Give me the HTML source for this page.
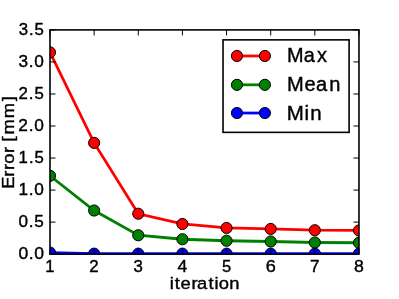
<!DOCTYPE html>
<html><head><meta charset="utf-8"><title>chart</title>
<style>
html,body{margin:0;padding:0;background:#fff;}
svg{display:block;will-change:transform;}
text{font-family:"Liberation Sans",sans-serif;fill:#000;white-space:pre;stroke:#000;stroke-width:0.4px;}
</style></head><body>
<svg width="399" height="299" viewBox="0 0 400 300">
<rect x="0" y="0" width="400" height="300" fill="#fff"/>
<defs><clipPath id="ax"><rect x="50" y="30" width="310" height="225"/></clipPath></defs>
<g clip-path="url(#ax)">
<polyline points="50.00,52.53 94.29,143.36 138.57,214.44 182.86,224.71 227.14,228.72 271.43,229.72 315.71,230.98 360.00,231.23" fill="none" stroke="#ff0000" stroke-width="2.78" stroke-linejoin="miter"/>
<circle cx="50.00" cy="52.53" r="5.6" fill="#ff0000" stroke="#000" stroke-width="1.0"/>
<circle cx="94.29" cy="143.36" r="5.6" fill="#ff0000" stroke="#000" stroke-width="1.0"/>
<circle cx="138.57" cy="214.44" r="5.6" fill="#ff0000" stroke="#000" stroke-width="1.0"/>
<circle cx="182.86" cy="224.71" r="5.6" fill="#ff0000" stroke="#000" stroke-width="1.0"/>
<circle cx="227.14" cy="228.72" r="5.6" fill="#ff0000" stroke="#000" stroke-width="1.0"/>
<circle cx="271.43" cy="229.72" r="5.6" fill="#ff0000" stroke="#000" stroke-width="1.0"/>
<circle cx="315.71" cy="230.98" r="5.6" fill="#ff0000" stroke="#000" stroke-width="1.0"/>
<circle cx="360.00" cy="231.23" r="5.6" fill="#ff0000" stroke="#000" stroke-width="1.0"/>
<polyline points="50.00,176.39 94.29,211.23 138.57,236.04 182.86,240.05 227.14,241.55 271.43,242.31 315.71,243.31 360.00,243.56" fill="none" stroke="#008000" stroke-width="2.78" stroke-linejoin="miter"/>
<circle cx="50.00" cy="176.39" r="5.6" fill="#008000" stroke="#000" stroke-width="1.0"/>
<circle cx="94.29" cy="211.23" r="5.6" fill="#008000" stroke="#000" stroke-width="1.0"/>
<circle cx="138.57" cy="236.04" r="5.6" fill="#008000" stroke="#000" stroke-width="1.0"/>
<circle cx="182.86" cy="240.05" r="5.6" fill="#008000" stroke="#000" stroke-width="1.0"/>
<circle cx="227.14" cy="241.55" r="5.6" fill="#008000" stroke="#000" stroke-width="1.0"/>
<circle cx="271.43" cy="242.31" r="5.6" fill="#008000" stroke="#000" stroke-width="1.0"/>
<circle cx="315.71" cy="243.31" r="5.6" fill="#008000" stroke="#000" stroke-width="1.0"/>
<circle cx="360.00" cy="243.56" r="5.6" fill="#008000" stroke="#000" stroke-width="1.0"/>
<polyline points="50.00,253.40 94.29,254.50 138.57,254.50 182.86,254.50 227.14,254.50 271.43,254.50 315.71,254.50 360.00,254.50" fill="none" stroke="#0000ff" stroke-width="2.78" stroke-linejoin="miter"/>
<circle cx="50.00" cy="253.40" r="5.6" fill="#0000ff" stroke="#000" stroke-width="1.0"/>
<circle cx="94.29" cy="254.50" r="5.6" fill="#0000ff" stroke="#000" stroke-width="1.0"/>
<circle cx="138.57" cy="254.50" r="5.6" fill="#0000ff" stroke="#000" stroke-width="1.0"/>
<circle cx="182.86" cy="254.50" r="5.6" fill="#0000ff" stroke="#000" stroke-width="1.0"/>
<circle cx="227.14" cy="254.50" r="5.6" fill="#0000ff" stroke="#000" stroke-width="1.0"/>
<circle cx="271.43" cy="254.50" r="5.6" fill="#0000ff" stroke="#000" stroke-width="1.0"/>
<circle cx="315.71" cy="254.50" r="5.6" fill="#0000ff" stroke="#000" stroke-width="1.0"/>
<circle cx="360.00" cy="254.50" r="5.6" fill="#0000ff" stroke="#000" stroke-width="1.0"/>
</g>
<path d="M50.00 255.0 v-5.56 M50.00 30.0 v5.56 M94.29 255.0 v-5.56 M94.29 30.0 v5.56 M138.57 255.0 v-5.56 M138.57 30.0 v5.56 M182.86 255.0 v-5.56 M182.86 30.0 v5.56 M227.14 255.0 v-5.56 M227.14 30.0 v5.56 M271.43 255.0 v-5.56 M271.43 30.0 v5.56 M315.71 255.0 v-5.56 M315.71 30.0 v5.56 M360.00 255.0 v-5.56 M360.00 30.0 v5.56 M50.0 255.00 h5.56 M360.0 255.00 h-5.56 M50.0 222.86 h5.56 M360.0 222.86 h-5.56 M50.0 190.71 h5.56 M360.0 190.71 h-5.56 M50.0 158.57 h5.56 M360.0 158.57 h-5.56 M50.0 126.43 h5.56 M360.0 126.43 h-5.56 M50.0 94.29 h5.56 M360.0 94.29 h-5.56 M50.0 62.14 h5.56 M360.0 62.14 h-5.56 M50.0 30.00 h5.56 M360.0 30.00 h-5.56" stroke="#000" stroke-width="1.0" fill="none"/>
<rect x="50.0" y="30.0" width="310.0" height="225.0" fill="none" stroke="#000" stroke-width="1.6"/>
<text transform="translate(50.00,273.40) scale(0.9758,1)" x="-4.87" y="0" font-size="17.2">1</text>
<text transform="translate(94.29,273.40) scale(0.9848,1)" x="-5.01" y="0" font-size="17.2">2</text>
<text transform="translate(138.57,273.40) scale(0.9812,1)" x="-4.77" y="0" font-size="17.2">3</text>
<text transform="translate(182.86,273.40) scale(1.0218,1)" x="-4.79" y="0" font-size="17.2">4</text>
<text transform="translate(227.14,273.40) scale(0.9642,1)" x="-4.85" y="0" font-size="17.2">5</text>
<text transform="translate(271.43,273.40) scale(1.0574,1)" x="-4.79" y="0" font-size="17.2">6</text>
<text transform="translate(315.71,273.40) scale(0.9994,1)" x="-4.82" y="0" font-size="17.2">7</text>
<text transform="translate(360.00,273.40) scale(1.0327,1)" x="-4.79" y="0" font-size="17.2">8</text>
<text transform="translate(44.40,259.90) scale(1.0241,1)" x="-25.50 -15.34 -9.97" y="0" font-size="17.2">0.0</text>
<text transform="translate(44.40,227.76) scale(0.9981,1)" x="-26.04 -15.68 -10.16" y="0" font-size="17.2">0.5</text>
<text transform="translate(44.40,195.61) scale(1.0045,1)" x="-25.98 -15.59 -10.07" y="0" font-size="17.2">1.0</text>
<text transform="translate(44.40,163.47) scale(0.9772,1)" x="-26.57 -15.96 -10.28" y="0" font-size="17.2">1.5</text>
<text transform="translate(44.40,131.33) scale(1.0078,1)" x="-26.05 -15.55 -10.05" y="0" font-size="17.2">2.0</text>
<text transform="translate(44.40,99.19) scale(0.9812,1)" x="-26.63 -15.91 -10.26" y="0" font-size="17.2">2.5</text>
<text transform="translate(44.40,67.04) scale(1.0058,1)" x="-25.85 -15.58 -10.06" y="0" font-size="17.2">3.0</text>
<text transform="translate(44.40,34.90) scale(0.9796,1)" x="-26.41 -15.93 -10.27" y="0" font-size="17.2">3.5</text>
<text transform="translate(205.00,289.70) scale(1.0707,1)" x="-32.63 -27.94 -22.42 -12.26 -7.09 3.68 9.43 13.48 23.20" y="0" font-size="17.2">iteration</text>
<text transform="translate(13.90,142.50) rotate(-90) scale(1.0727,1)" x="-43.82 -32.49 -26.10 -20.35 -10.21 -4.42 0.53 7.03 22.16 38.13" y="0" font-size="17.2">Error [mm]</text>
<rect x="223.6" y="40" width="126.5" height="92.8" fill="#fff" stroke="#000" stroke-width="1.6"/>
<line x1="237.6" y1="56.15" x2="265.6" y2="56.15" stroke="#ff0000" stroke-width="2.78"/>
<circle cx="237.6" cy="56.15" r="5.6" fill="#ff0000" stroke="#000" stroke-width="1.0"/>
<circle cx="265.6" cy="56.15" r="5.6" fill="#ff0000" stroke="#000" stroke-width="1.0"/>
<text transform="translate(287.60,62.20) scale(0.9607,1)" x="0.32 17.79 31.63" y="0" font-size="20.8">Max</text>
<line x1="237.6" y1="85.1" x2="265.6" y2="85.1" stroke="#008000" stroke-width="2.78"/>
<circle cx="237.6" cy="85.1" r="5.6" fill="#008000" stroke="#000" stroke-width="1.0"/>
<circle cx="265.6" cy="85.1" r="5.6" fill="#008000" stroke="#000" stroke-width="1.0"/>
<text transform="translate(287.60,91.80) scale(0.9695,1)" x="0.24 18.40 30.27 43.93" y="0" font-size="20.8">Mean</text>
<line x1="237.6" y1="113.4" x2="265.6" y2="113.4" stroke="#0000ff" stroke-width="2.78"/>
<circle cx="237.6" cy="113.4" r="5.6" fill="#0000ff" stroke="#000" stroke-width="1.0"/>
<circle cx="265.6" cy="113.4" r="5.6" fill="#0000ff" stroke="#000" stroke-width="1.0"/>
<text transform="translate(287.60,120.00) scale(0.9886,1)" x="0.07 17.97 23.75" y="0" font-size="20.8">Min</text>
</svg>
</body></html>
